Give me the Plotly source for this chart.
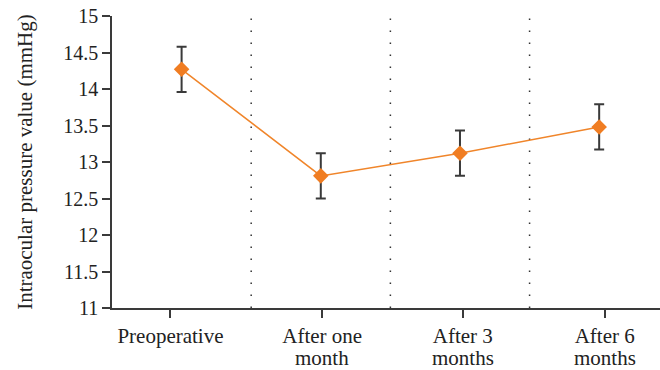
import plotly.graph_objects as go

categories = ["Preoperative", "After one<br>month", "After 3<br>months", "After 6<br>months"]
iop_mean = [14.27, 12.81, 13.12, 13.48]
iop_err = [0.31, 0.31, 0.31, 0.31]
y_ticks = [11, 11.5, 12, 12.5, 13, 13.5, 14, 14.5, 15]
y_ticktext = ["11", "11.5", "12", "12.5", "13", "13.5", "14", "14.5", "15"]
y_title = "Intraocular pressure value (mmHg)"

x_pos = list(range(len(categories)))
tick_pos = [-0.08, 1.01, 2.02, 3.04]

FONT = "Liberation Serif"
AXC = "#3a3a3a"
TXT = "#222222"

first_lines = [c.split("<br>")[0] for c in categories]
second_lines = [c.split("<br>")[1] if "<br>" in c else "" for c in categories]

fig = go.Figure()
fig.add_trace(go.Scatter(
    x=x_pos, y=iop_mean,
    mode="lines+markers",
    line=dict(color="#F0852A", width=1.5),
    marker=dict(symbol="diamond", size=12, color="#F07D22"),
    error_y=dict(type="data", array=iop_err, visible=True,
                 color="#3a3a3a", thickness=2, width=5),
    showlegend=False,
))

for b in [0.5, 1.5, 2.5]:
    fig.add_shape(type="line", xref="x", yref="y", x0=b, x1=b, y0=11, y1=15,
                  line=dict(color="#333333", width=1.5, dash="1.5px,10.5px"), layer="below")

for tp, txt in zip(tick_pos, second_lines):
    if txt:
        fig.add_annotation(text=txt, xref="x", yref="paper", x=tp, y=0,
                           xanchor="center", yanchor="top", yshift=-36, showarrow=False,
                           font=dict(family=FONT, size=21, color=TXT))

fig.add_annotation(text=y_title, xref="paper", yref="paper", x=-0.159, y=0.5,
                   xanchor="center", yanchor="middle", textangle=-90, showarrow=False,
                   font=dict(family=FONT, size=21, color=TXT))

fig.update_layout(
    width=660, height=370,
    margin=dict(l=112, r=0, t=16, b=62),
    paper_bgcolor="white", plot_bgcolor="white",
    font=dict(family=FONT, size=20, color=TXT),
    xaxis=dict(range=[-0.5, 3.437], tickmode="array", tickvals=tick_pos, ticktext=first_lines,
               automargin=False,
               showgrid=False, zeroline=False, showline=True, linecolor=AXC, linewidth=1.5,
               ticks="outside", ticklen=8, tickwidth=1.5, tickcolor=AXC,
               tickfont=dict(family=FONT, size=21, color=TXT)),
    yaxis=dict(range=[11, 15], tickmode="array", tickvals=y_ticks, ticktext=y_ticktext,
               automargin=False,
               showgrid=False, zeroline=False, showline=True, linecolor=AXC, linewidth=1.5,
               ticks="outside", ticklen=8, tickwidth=1.5, tickcolor=AXC,
               tickfont=dict(family=FONT, size=20, color=TXT)),
)

fig.write_html("out.html", post_script="document.body.style.margin='0';",
               config={"displayModeBar": False})
